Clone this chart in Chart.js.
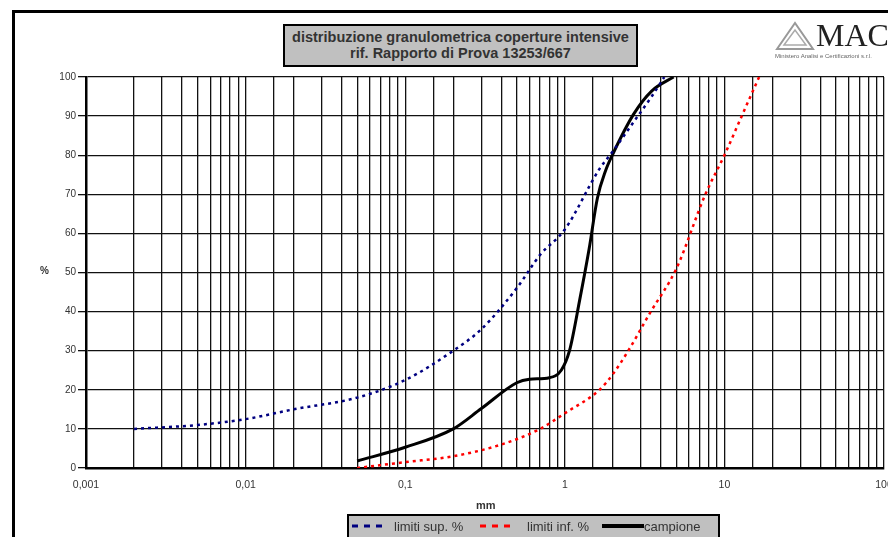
<!DOCTYPE html>
<html>
<head>
<meta charset="utf-8">
<script src="https://cdn.jsdelivr.net/npm/chart.js@4/dist/chart.umd.min.js"></script>
<style>
  html, body { margin: 0; padding: 0; background: #fff; overflow: hidden; width: 888px; height: 537px; }
  body { position: relative; font-family: Arial, 'Liberation Sans', sans-serif; }
  #frame { position: absolute; left: 12px; top: 10px; width: 900px; height: 560px; border: 3px solid #000; box-sizing: border-box; }
  #wrap { position: absolute; left: 0; top: 0; width: 1000px; height: 537px; }
  #title { position: absolute; left: 283px; top: 24px; width: 355px; height: 43px; box-sizing: border-box;
           background: #c0c0c0; border: 2px solid #000; color: #333; font-weight: bold; font-size: 14.5px;
           text-align: center; line-height: 16px; padding-top: 3px; white-space: nowrap; }
  #logo { position: absolute; left: 772px; top: 16px; width: 130px; height: 52px; }
  #logo .mac { position: absolute; left: 44px; top: 1px; font-family: 'Liberation Serif', 'DejaVu Serif', serif; font-size: 32px; color: #222; }
  #logo .sub { position: absolute; left: 3px; top: 37px; font-size: 6px; color: #666; white-space: nowrap; }
  #pct { position: absolute; left: 40px; top: 265px; font-size: 10px; color: #333; font-weight: bold; }
  #mm { position: absolute; left: 476px; top: 499px; font-size: 11px; color: #333; font-weight: bold; }
  #legend { position: absolute; left: 347px; top: 514px; width: 373px; height: 30px; box-sizing: border-box;
            background: #c0c0c0; border: 2px solid #000; font-size: 13px; color: #333; }
  #legend span, #legend svg { position: absolute; top: 3px; }
</style>
</head>
<body>
<div id="frame"></div>
<div id="wrap"><canvas id="myChart" width="1000" height="537"></canvas></div>
<div id="title">distribuzione granulometrica coperture intensive<br>rif. Rapporto di Prova 13253/667</div>
<div id="logo">
  <svg width="42" height="32" style="position:absolute;left:2px;top:5px">
    <polygon points="3,28 21,2 39,28" fill="none" stroke="#999" stroke-width="2"/>
    <polygon points="10,24 21,9 32,24" fill="none" stroke="#aaa" stroke-width="1.5"/>
  </svg>
  <div class="mac">MAC</div>
  <div class="sub">Ministero Analisi e Certificazioni s.r.l.</div>
</div>
<div id="pct">%</div>
<div id="mm">mm</div>
<div id="legend">
  <svg width="36" height="14" style="left:3px"><line x1="0" y1="7" x2="36" y2="7" stroke="#000080" stroke-width="3" stroke-dasharray="6,6"/></svg>
  <span style="left:45px">limiti sup. %</span>
  <svg width="36" height="14" style="left:131px"><line x1="0" y1="7" x2="36" y2="7" stroke="#ff0000" stroke-width="3" stroke-dasharray="6,6"/></svg>
  <span style="left:178px">limiti inf. %</span>
  <svg width="42" height="14" style="left:253px"><line x1="0" y1="7" x2="42" y2="7" stroke="#000" stroke-width="4"/></svg>
  <span style="left:295px">campione</span>
</div>
<script>
// limiti superiori (passante %)
const supX = [0.002, 0.005, 0.01, 0.02, 0.05, 0.1, 0.2, 0.3, 0.5, 0.7, 1, 1.65, 2, 2.7, 3.5, 4.2];
const supY = [10, 11, 12.5, 15, 18, 22.5, 30, 35.5, 46, 54.5, 61, 76.5, 81, 88.5, 95, 100];

// limiti inferiori
const infX = [0.05, 0.1, 0.2, 0.4, 0.7, 1, 1.65, 2, 2.5, 3.4, 5, 7.6, 10, 13, 16.5];
const infY = [0, 1.5, 3, 6, 10, 14, 20, 24, 30, 39.5, 51, 70, 80, 90.5, 100];

// campione
const campX = [0.05, 0.1, 0.2, 0.3, 0.5, 0.6, 0.8, 0.95, 1.07, 1.24, 1.42, 1.6, 1.8, 2, 2.7, 3.5, 4.8];
const campY = [1.8, 5.3, 10, 15.2, 21.8, 22.7, 23.1, 25, 30, 43, 56, 69, 76, 80.3, 90.5, 96.4, 100];

const xMin = 0.001, xMax = 100;
const yTicks = [0, 10, 20, 30, 40, 50, 60, 70, 80, 90, 100];

const pts = (xs, ys) => xs.map((x, i) => ({ x: x, y: ys[i] }));

const ctx = document.getElementById('myChart').getContext('2d');
new Chart(ctx, {
    type: 'line',
    data: {
        datasets: [
            { label: 'limiti sup. %', data: pts(supX, supY), borderColor: '#000080', borderWidth: 2.5,
              borderDash: [3, 4], pointRadius: 0, cubicInterpolationMode: 'monotone' },
            { label: 'limiti inf. %', data: pts(infX, infY), borderColor: '#ff0000', borderWidth: 2.5,
              borderDash: [3, 4], pointRadius: 0, cubicInterpolationMode: 'monotone' },
            { label: 'campione', data: pts(campX, campY), borderColor: '#000', borderWidth: 3,
              pointRadius: 0, cubicInterpolationMode: 'monotone' }
        ]
    },
    options: {
        responsive: false,
        animation: false,
        layout: { padding: { left: 0, right: 116, top: 77, bottom: 39 } },
        scales: {
            x: {
                type: 'logarithmic',
                min: xMin,
                max: xMax,
                afterFit: s => { s.height = 30; },
                grid: { color: '#111', lineWidth: 1.3, drawTicks: false },
                border: { color: '#000', width: 2.5 },
                ticks: {
                    autoSkip: false,
                    maxRotation: 0,
                    padding: 11,
                    color: '#333',
                    font: { family: 'Arial, "Liberation Sans"', size: 10.5 },
                    callback: v => {
                        const l = Math.log10(v);
                        return Math.abs(l - Math.round(l)) < 1e-6 ? String(v).replace('.', ',') : '';
                    }
                }
            },
            y: {
                min: 0,
                max: 100,
                afterFit: s => { s.width = 86; },
                afterBuildTicks: s => { s.ticks = yTicks.map(v => ({ value: v })); },
                grid: { color: '#111', lineWidth: 1.3, tickLength: 8 },
                border: { color: '#000', width: 2.5 },
                ticks: { color: '#333', padding: 2, font: { family: 'Arial, "Liberation Sans"', size: 10 } }
            }
        },
        plugins: {
            legend: { display: false },
            tooltip: { enabled: false }
        }
    }
});
</script>
</body>
</html>
